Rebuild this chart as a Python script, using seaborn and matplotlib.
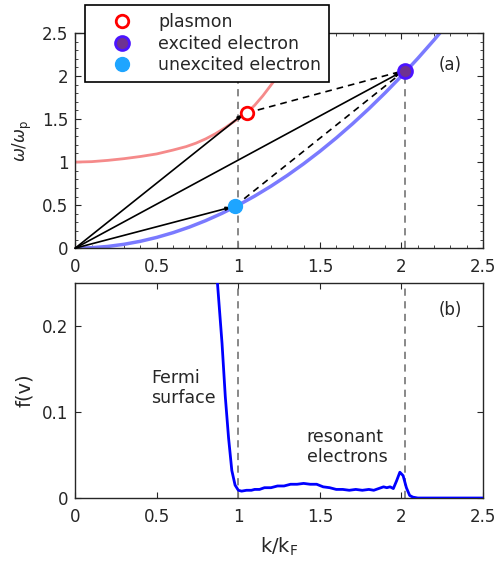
import numpy as np
import pandas as pd
import matplotlib
matplotlib.use("Agg")
import matplotlib.pyplot as plt
import seaborn as sns
from matplotlib.ticker import MultipleLocator
from matplotlib.lines import Line2D

# ---------------- data ----------------
# plasmon dispersion (red curve)
plasmon_k = [0.0, 0.1, 0.2, 0.3, 0.4, 0.5, 0.6, 0.68, 0.74, 0.80, 0.86, 0.92, 0.98, 1.05, 1.10, 1.15, 1.21, 1.27, 1.33]
plasmon_w = [1.0, 1.005, 1.02, 1.04, 1.065, 1.095, 1.14, 1.18, 1.22, 1.27, 1.33, 1.40, 1.48, 1.57, 1.66, 1.77, 1.92, 2.08, 2.25]
# free electron dispersion (blue curve)
elec_k = [0.0, 0.1, 0.2, 0.3, 0.4, 0.5, 0.6, 0.7, 0.8, 0.9, 1.0, 1.1, 1.2, 1.3, 1.4, 1.5,
          1.6, 1.7, 1.8, 1.9, 2.0, 2.1, 2.2, 2.3]
elec_w = [0.0, 0.005, 0.02, 0.045, 0.08, 0.125, 0.18, 0.245, 0.32, 0.405, 0.5, 0.605, 0.72,
          0.845, 0.98, 1.125, 1.28, 1.445, 1.62, 1.805, 2.0, 2.205, 2.42, 2.645]
# marked states
plasmon_pt = (1.05, 1.57)
excited_pt = (2.02, 2.06)
unexcited_pt = (0.98, 0.49)
fermi_k = 1.0
resonant_k = 2.02
# distribution function f(v)
fv_k = [0.85, 0.87, 0.90, 0.92, 0.94, 0.96, 0.98, 1.00, 1.02, 1.05, 1.08, 1.10, 1.13, 1.16,
        1.20, 1.24, 1.28, 1.32, 1.36, 1.40, 1.44, 1.48, 1.52, 1.56, 1.60, 1.64, 1.68, 1.72,
        1.76, 1.80, 1.83, 1.86, 1.89, 1.91, 1.93, 1.95, 1.97, 1.99, 2.01, 2.03, 2.05, 2.07,
        2.10, 2.2, 2.3, 2.4, 2.5]
fv_v = [0.30, 0.255, 0.18, 0.118, 0.07, 0.032, 0.015, 0.009, 0.008, 0.009, 0.009, 0.010, 0.010, 0.012,
        0.012, 0.014, 0.014, 0.016, 0.016, 0.017, 0.016, 0.016, 0.013, 0.012, 0.010, 0.010, 0.009, 0.010,
        0.009, 0.010, 0.009, 0.011, 0.013, 0.012, 0.013, 0.011, 0.020, 0.030, 0.026, 0.012, 0.003, 0.001,
        0.0, 0.0, 0.0, 0.0, 0.0]
xticks = [0, 0.5, 1, 1.5, 2, 2.5]
xtick_labels = ["0", "0.5", "1", "1.5", "2", "2.5"]
yticks_a = [0, 0.5, 1, 1.5, 2, 2.5]
ytick_labels_a = ["0", "0.5", "1", "1.5", "2", "2.5"]
yticks_b = [0, 0.1, 0.2]
ytick_labels_b = ["0", "0.1", "0.2"]

# ---------------- style ----------------
sns.set_style("ticks")
plt.rcParams['font.family'] = ['DejaVu Sans']
plt.rcParams['axes.edgecolor'] = '#262626'
plt.rcParams['axes.linewidth'] = 1.0

fig = plt.figure(figsize=(4.98, 5.64), dpi=100)
axa = fig.add_axes([0.151, 0.560, 0.819, 0.3815])
axb = fig.add_axes([0.151, 0.117, 0.819, 0.381])

grey = '#7f7f7f'
dash = (0, (4, 3))
txt = '#262626'

# ---------- panel (a) ----------
df_p = pd.DataFrame({"k": plasmon_k, "w": plasmon_w})
df_e = pd.DataFrame({"k": elec_k, "w": elec_w})
sns.lineplot(data=df_p, x="k", y="w", ax=axa, color='#f58a8a', lw=2, sort=False, zorder=2)
sns.lineplot(data=df_e, x="k", y="w", ax=axa, color='#7a7aff', lw=2.5, sort=False, zorder=2)

axa.axvline(fermi_k, color=grey, lw=1.3, ls=dash, zorder=1)
axa.plot([resonant_k, resonant_k], [0, excited_pt[1]], color=grey, lw=1.3, ls=dash, zorder=1)

arrow_kw = dict(arrowstyle='-|>,head_length=0.3,head_width=0.1', color='black', lw=1.2,
                shrinkA=0, shrinkB=0)
for pt in (plasmon_pt, excited_pt, unexcited_pt):
    axa.annotate("", xy=(pt[0] - 0.02, pt[1] - 0.012), xytext=(0, 0),
                 arrowprops=arrow_kw, zorder=3)
axa.plot([plasmon_pt[0], excited_pt[0] - 0.03], [plasmon_pt[1], excited_pt[1] - 0.01],
         color='black', lw=1.2, ls=(0, (4, 3)), zorder=3)
axa.plot([unexcited_pt[0], excited_pt[0] - 0.03], [unexcited_pt[1], excited_pt[1] - 0.04],
         color='black', lw=1.2, ls=(0, (4, 3)), zorder=3)

axa.plot(*plasmon_pt, 'o', ms=9, mfc='white', mec='#ff0000', mew=2, zorder=4)
axa.plot(*excited_pt, 'o', ms=10, mfc='#6e3290', mec='#4c14ff', mew=2, zorder=4)
axa.plot(*unexcited_pt, 'o', ms=10, mfc='#1ea5ff', mec='#1ea5ff', mew=1, zorder=4)

axa.set_xlim(0, 2.5)
axa.set_ylim(0, 2.5)
axa.set_xticks(xticks)
axa.set_xticklabels(xtick_labels)
axa.set_yticks(yticks_a)
axa.set_yticklabels(ytick_labels_a)
axa.xaxis.set_minor_locator(MultipleLocator(0.1))
axa.yaxis.set_minor_locator(MultipleLocator(0.1))
axa.tick_params(which='both', direction='in', top=True, right=True, labelsize=12,
                color=txt, labelcolor=txt)
axa.tick_params(which='major', length=4)
axa.tick_params(which='minor', length=2.5)
axa.tick_params(axis='x', pad=7)
axa.tick_params(axis='y', pad=5)
axa.set_xlabel("")
axa.set_ylabel(r"$\omega/\omega_\mathrm{p}$", fontsize=12, color=txt, labelpad=6)
axa.text(2.30, 2.13, "(a)", fontsize=12, ha='center', va='center', color=txt)

handles = [
    Line2D([], [], ls='none', marker='o', ms=9, mfc='white', mec='#ff0000', mew=2),
    Line2D([], [], ls='none', marker='o', ms=10, mfc='#6e3290', mec='#4c14ff', mew=2),
    Line2D([], [], ls='none', marker='o', ms=10, mfc='#1ea5ff', mec='#1ea5ff'),
]
leg = fig.legend(handles, ["plasmon", "excited electron", "unexcited electron"],
                 loc='upper left', bbox_to_anchor=(85 / 498, 1 - 5 / 564),
                 fontsize=12.5, frameon=True, fancybox=False, framealpha=1,
                 edgecolor='black', borderpad=0.45, handletextpad=0.35,
                 labelspacing=0.22, handlelength=3.4, borderaxespad=0)
leg.get_frame().set_linewidth(1.2)
for t in leg.get_texts():
    t.set_color(txt)

# ---------- panel (b) ----------
df_f = pd.DataFrame({"k": fv_k, "f": fv_v})
sns.lineplot(data=df_f, x="k", y="f", ax=axb, color='#0000ff', lw=2, sort=False, zorder=3)
axb.axvline(fermi_k, color=grey, lw=1.3, ls=dash, zorder=1)
axb.axvline(resonant_k, color=grey, lw=1.3, ls=dash, zorder=1)

axb.set_xlim(0, 2.5)
axb.set_ylim(0, 0.25)
axb.set_xticks(xticks)
axb.set_xticklabels(xtick_labels)
axb.set_yticks(yticks_b)
axb.set_yticklabels(ytick_labels_b)
axb.tick_params(which='both', direction='in', top=True, right=True, labelsize=12,
                length=4, color=txt, labelcolor=txt)
axb.tick_params(axis='x', pad=7)
axb.tick_params(axis='y', pad=5)
axb.set_xlabel(r"k/k$_\mathrm{F}$", fontsize=14, color=txt, labelpad=7)
axb.set_ylabel("f(v)", fontsize=14, color=txt, labelpad=6)
axb.text(2.30, 0.219, "(b)", fontsize=12, ha='center', va='center', color=txt)
axb.text(0.465, 0.128, "Fermi\nsurface", fontsize=12.5, ha='left', va='center',
         color=txt, linespacing=1.15)
axb.text(1.42, 0.059, "resonant\nelectrons", fontsize=12.5, ha='left', va='center',
         color=txt, linespacing=1.15)

fig.savefig("out.png", dpi=100)
